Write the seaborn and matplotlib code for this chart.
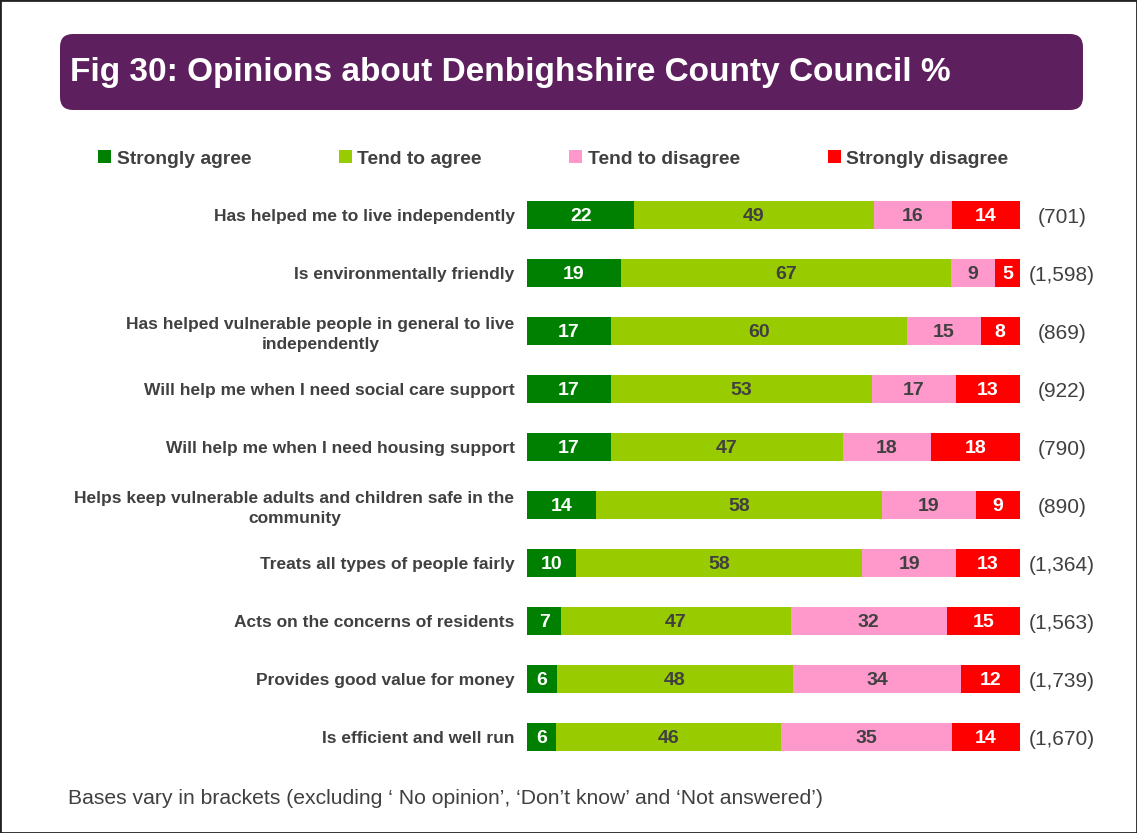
import matplotlib
matplotlib.use("Agg")
import matplotlib.pyplot as plt
import seaborn as sns
import pandas as pd
from matplotlib.patches import FancyBboxPatch, Rectangle, Patch

# Data
statements = [
    "Has helped me to live independently",
    "Is environmentally friendly",
    "Has helped vulnerable people in general to live\nindependently",
    "Will help me when I need social care support",
    "Will help me when I need housing support",
    "Helps keep vulnerable adults and children safe in the\ncommunity",
    "Treats all types of people fairly",
    "Acts on the concerns of residents",
    "Provides good value for money",
    "Is efficient and well run",
]
strongly_agree = [22, 19, 17, 17, 17, 14, 10, 7, 6, 6]
tend_to_agree = [49, 67, 60, 53, 47, 58, 58, 47, 48, 46]
tend_to_disagree = [16, 9, 15, 17, 18, 19, 19, 32, 34, 35]
strongly_disagree = [14, 5, 8, 13, 18, 9, 13, 15, 12, 14]
bases = ["(701)", "(1,598)", "(869)", "(922)", "(790)", "(890)",
         "(1,364)", "(1,563)", "(1,739)", "(1,670)"]

responses = ["Strongly agree", "Tend to agree", "Tend to disagree", "Strongly disagree"]
colors = ["#008000", "#99CC00", "#FF99CC", "#FF0000"]
label_colors = ["white", "#404040", "#404040", "white"]
TEXT = "#404040"

sns.set_style("white")
plt.rcParams["font.family"] = ["Liberation Sans", "DejaVu Sans"]

df = pd.DataFrame({
    "statement": statements,
    "Strongly agree": strongly_agree,
    "Tend to agree": tend_to_agree,
    "Tend to disagree": tend_to_disagree,
    "Strongly disagree": strongly_disagree,
})
# 100% stacked: scale each row so the bar fills the full width
shares = df[responses].div(df[responses].sum(axis=1), axis=0) * 100
cum = shares.cumsum(axis=1)
plot_df = pd.concat([df[["statement"]], cum], axis=1)

W, H = 1137, 833
fig = plt.figure(figsize=(W / 100, H / 100), dpi=100)
ax = fig.add_axes([527 / W, 67 / H, 493 / W, 580 / H])

# draw cumulative layers back to front
for resp, col in reversed(list(zip(responses, colors))):
    sns.barplot(data=plot_df, x=resp, y="statement", orient="h", color=col,
                saturation=1, width=0.48, linewidth=0, errorbar=None, ax=ax)

# segment labels
for j in range(len(statements)):
    left = 0
    for i, resp in enumerate(responses):
        share = shares.loc[j, resp]
        ax.text(left + share / 2, j + 0.02, str(df.loc[j, resp]), ha="center", va="center",
                fontsize=14, fontweight="bold", color=label_colors[i])
        left += share
    ax.text(108.5, j + 0.04, bases[j], ha="center", va="center", fontsize=15,
            color=TEXT, clip_on=False)

ax.set_xlim(0, 100)
ax.set_ylim(len(statements) - 0.5, -0.5)
ax.set_xticks([])
ax.set_xlabel("")
ax.set_ylabel("")
ax.tick_params(axis="y", length=0, pad=9, labelsize=12.5, labelcolor=TEXT)
for lab in ax.get_yticklabels():
    lab.set_fontweight("bold")
    lab.set_multialignment("center")
    lab.set_linespacing(1.35)
sns.despine(ax=ax, left=True, bottom=True)

# legend
handles = [Patch(facecolor=c, edgecolor="none") for c in colors]
fig.legend(handles, responses, loc="center left", bbox_to_anchor=(98 / W, 1 - 159 / H),
           ncol=4, frameon=False, borderpad=0, borderaxespad=0,
           handlelength=0.67, handleheight=0.67, handletextpad=0.3,
           columnspacing=4.55, prop={"weight": "bold", "size": 13.85},
           labelcolor=TEXT)

# title banner
banner = FancyBboxPatch((0.60, (H - 110) / 100), 10.23, 0.76,
                        boxstyle="round,pad=0,rounding_size=0.13",
                        transform=fig.dpi_scale_trans, facecolor="#5E1F5E",
                        edgecolor="none")
fig.patches.append(banner)
fig.text(70 / W, 1 - 73 / H, "Fig 30: Opinions about Denbighshire County Council %",
         color="white", fontsize=24, fontweight="bold", va="center", ha="left")

fig.text(68 / W, 1 - 798 / H,
         "Bases vary in brackets (excluding \u2018 No opinion\u2019, \u2018Don\u2019t know\u2019 and \u2018Not answered\u2019)",
         color=TEXT, fontsize=15.2, va="center", ha="left")

# outer frame
fig.patches.append(Rectangle((0, 0), 1, 1, transform=fig.transFigure, fill=False,
                             edgecolor="#222222", linewidth=2))

fig.savefig("out.png", dpi=100)
